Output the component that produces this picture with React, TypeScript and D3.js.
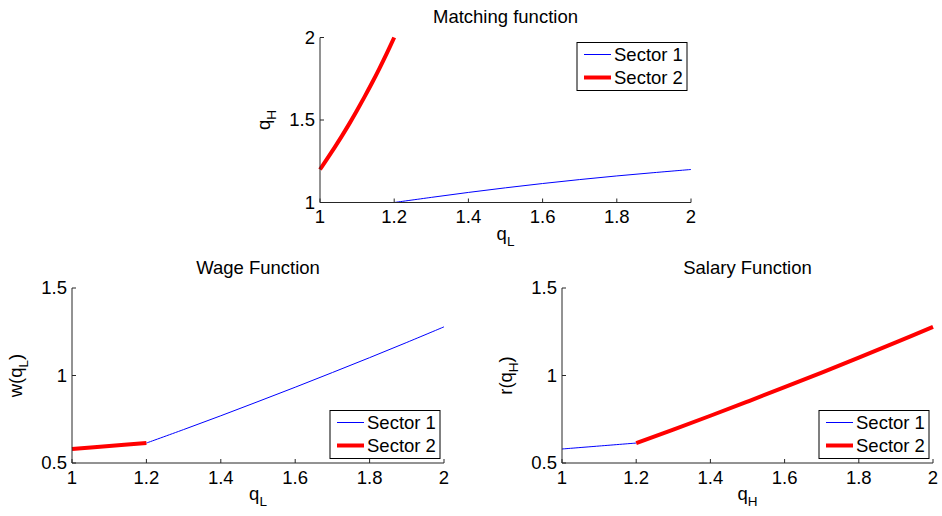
import React from "react";
import * as d3 from "d3";

// ---------- data ----------
const xTicks = [1, 1.2, 1.4, 1.6, 1.8, 2];
const yTicksTop = [1, 1.5, 2];
const yTicksBottom = [0.5, 1, 1.5];

// Matching function
const matchS1X = [1.2, 1.3, 1.4, 1.5, 1.6, 1.7, 1.8, 1.9, 2.0];
const matchS1Y = [1.0, 1.031, 1.061, 1.089, 1.115, 1.139, 1.161, 1.181, 1.2];
const matchS2X = [1.0, 1.02, 1.04, 1.06, 1.08, 1.1, 1.12, 1.14, 1.16, 1.18, 1.2];
const matchS2Y = [1.2, 1.267, 1.336, 1.407, 1.481, 1.559, 1.64, 1.724, 1.812, 1.904, 2.0];

// Wage function
const wageS1X = [1.2, 1.3, 1.4, 1.5, 1.6, 1.7, 1.8, 1.9, 2.0];
const wageS1Y = [0.614, 0.691, 0.77, 0.851, 0.933, 1.017, 1.102, 1.189, 1.278];
const wageS2X = [1.0, 1.1, 1.2];
const wageS2Y = [0.58, 0.597, 0.614];

// Salary function
const salS1X = [1.0, 1.1, 1.2];
const salS1Y = [0.58, 0.597, 0.614];
const salS2X = [1.2, 1.3, 1.4, 1.5, 1.6, 1.7, 1.8, 1.9, 2.0];
const salS2Y = [0.614, 0.691, 0.77, 0.851, 0.933, 1.017, 1.102, 1.189, 1.278];

const legendLabels = ["Sector 1", "Sector 2"];

// ---------- styles ----------
const FONT = "'Liberation Sans', Arial, Helvetica, sans-serif";
const FS = 18.5;
const AXIS = "#262626";
const BLUE = "#0000ff";
const RED = "#ff0000";

type Box = { left: number; right: number; top: number; bottom: number };

function Label({ main, sub, after }: { main: string; sub: string; after?: string }) {
  return (
    <>
      <tspan>{main}</tspan>
      <tspan fontSize={13.5} dy={6}>{sub}</tspan>
      {after ? <tspan dy={-6}>{after}</tspan> : null}
    </>
  );
}

function Panel({
  box, yDomain, yTicks, title, series, xlab, ylab, legendPos,
}: {
  box: Box;
  yDomain: [number, number];
  yTicks: number[];
  title: string;
  series: { xs: number[]; ys: number[]; color: string; width: number }[];
  xlab: { main: string; sub: string };
  ylab: { main: string; sub: string; after?: string };
  legendPos: "top" | "bottom";
}) {
  const x = d3.scaleLinear().domain([1, 2]).range([box.left, box.right]);
  const y = d3.scaleLinear().domain(yDomain).range([box.bottom, box.top]);
  const line = d3
    .line<[number, number]>()
    .x((d) => x(d[0]))
    .y((d) => y(d[1]))
    .curve(d3.curveCatmullRom.alpha(0.5));
  const cx = (box.left + box.right) / 2;
  const cy = (box.top + box.bottom) / 2;

  const lw = 110, lh = 48;
  const lx = box.right - 4 - lw;
  const ly = legendPos === "top" ? box.top + 5 : box.bottom - 4.5 - lh;

  return (
    <g>
      <text x={cx} y={box.top - 14.5} textAnchor="middle" fontSize={FS} fill="#000">{title}</text>
      {series.map((s, i) => (
        <path
          key={i}
          d={line(s.xs.map((v, j) => [v, s.ys[j]] as [number, number])) || ""}
          fill="none"
          stroke={s.color}
          strokeWidth={s.width}
          strokeLinecap="butt"
        />
      ))}
      {/* axes */}
      <line x1={box.left} x2={box.right} y1={box.bottom} y2={box.bottom} stroke={AXIS} strokeWidth={1} />
      <line x1={box.left} x2={box.left} y1={box.top} y2={box.bottom} stroke={AXIS} strokeWidth={1} />
      {xTicks.map((t) => (
        <g key={"x" + t}>
          <line x1={x(t)} x2={x(t)} y1={box.bottom} y2={box.bottom - 4} stroke={AXIS} />
          <text x={x(t)} y={box.bottom + 20.5} textAnchor="middle" fontSize={FS}>{d3.format("")(t)}</text>
        </g>
      ))}
      {yTicks.map((t) => (
        <g key={"y" + t}>
          <line x1={box.left} x2={box.left + 4} y1={y(t)} y2={y(t)} stroke={AXIS} />
          <text x={box.left - 5} y={y(t)} dy="0.35em" textAnchor="end" fontSize={FS}>{d3.format("")(t)}</text>
        </g>
      ))}
      <text x={cx} y={box.bottom + 37} textAnchor="middle" fontSize={FS}>
        <Label main={xlab.main} sub={xlab.sub} />
      </text>
      <text
        transform={`translate(${box.left - 50},${cy}) rotate(-90)`}
        textAnchor="middle"
        fontSize={FS}
      >
        <Label main={ylab.main} sub={ylab.sub} after={ylab.after} />
      </text>
      {/* legend */}
      <rect x={lx} y={ly} width={lw} height={lh} fill="#fff" stroke="#000" strokeWidth={1} />
      {legendLabels.map((lab, i) => {
        const ry = ly + 12 + i * 23;
        return (
          <g key={lab}>
            <line x1={lx + 7} x2={lx + 34} y1={ry} y2={ry} stroke={i === 0 ? BLUE : RED} strokeWidth={i === 0 ? 1 : 4} />
            <text x={lx + 37} y={ry} dy="0.35em" fontSize={FS}>{lab}</text>
          </g>
        );
      })}
    </g>
  );
}

export default function App() {
  return (
    <svg
      width={942}
      height={516}
      style={{ position: "absolute", left: 0, top: 0, background: "#fff" }}
      fontFamily={FONT}
    >
      <rect x={0} y={0} width={942} height={516} fill="#fff" />
      <Panel
        box={{ left: 320, right: 691, top: 37.5, bottom: 202.5 }}
        yDomain={[1, 2]}
        yTicks={yTicksTop}
        title="Matching function"
        series={[
          { xs: matchS1X, ys: matchS1Y, color: BLUE, width: 1 },
          { xs: matchS2X, ys: matchS2Y, color: RED, width: 4 },
        ]}
        xlab={{ main: "q", sub: "L" }}
        ylab={{ main: "q", sub: "H" }}
        legendPos="top"
      />
      <Panel
        box={{ left: 72, right: 444, top: 288, bottom: 463 }}
        yDomain={[0.5, 1.5]}
        yTicks={yTicksBottom}
        title="Wage Function"
        series={[
          { xs: wageS1X, ys: wageS1Y, color: BLUE, width: 1 },
          { xs: wageS2X, ys: wageS2Y, color: RED, width: 4 },
        ]}
        xlab={{ main: "q", sub: "L" }}
        ylab={{ main: "w(q", sub: "L", after: ")" }}
        legendPos="bottom"
      />
      <Panel
        box={{ left: 562, right: 933, top: 288, bottom: 463 }}
        yDomain={[0.5, 1.5]}
        yTicks={yTicksBottom}
        title="Salary Function"
        series={[
          { xs: salS1X, ys: salS1Y, color: BLUE, width: 1 },
          { xs: salS2X, ys: salS2Y, color: RED, width: 4 },
        ]}
        xlab={{ main: "q", sub: "H" }}
        ylab={{ main: "r(q", sub: "H", after: ")" }}
        legendPos="bottom"
      />
    </svg>
  );
}
